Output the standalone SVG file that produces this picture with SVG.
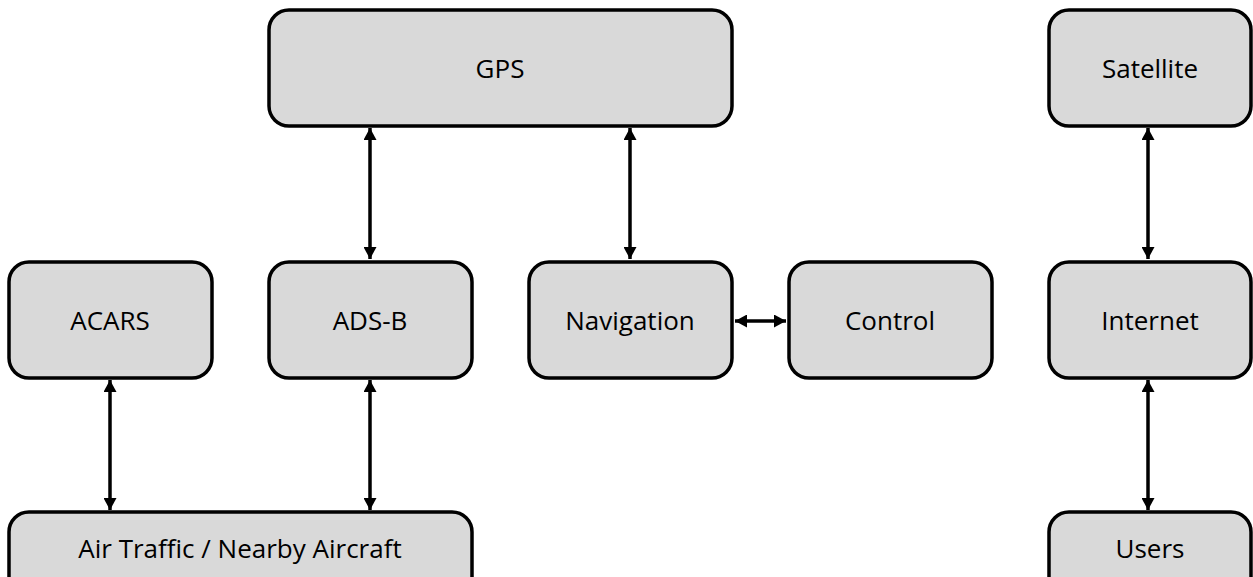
<svg xmlns="http://www.w3.org/2000/svg" width="1253" height="577" viewBox="0 0 1253 577">
  <style>
    .box { fill: #d9d9d9; stroke: #000; stroke-width: 3.5; }
    .lbl { font-family: "Open Sans", Lato, "Liberation Sans", sans-serif; font-size: 26px; fill: #000; text-anchor: middle; dominant-baseline: central; }
    .link { stroke: #000; stroke-width: 3.5; fill: none; marker-start: url(#head); marker-end: url(#head); }
  </style>
  <defs>
    <marker id="head" viewBox="0 0 12 13" refX="12" refY="6.5" markerWidth="12" markerHeight="13" markerUnits="userSpaceOnUse" orient="auto-start-reverse">
      <path d="M0,0 L12,6.5 L0,13 z" fill="#000"/>
    </marker>
  </defs>

  <g id="connectors">
    <line class="link" x1="370" y1="128" x2="370" y2="259"/>
    <line class="link" x1="630" y1="128" x2="630" y2="259"/>
    <line class="link" x1="110" y1="380" x2="110" y2="510"/>
    <line class="link" x1="370" y1="380" x2="370" y2="510"/>
    <line class="link" x1="735" y1="321" x2="786" y2="321"/>
    <line class="link" x1="1148" y1="128" x2="1148" y2="259"/>
    <line class="link" x1="1148" y1="380" x2="1148" y2="510"/>
  </g>

  <g id="gps">
    <rect class="box" x="269" y="10" width="463" height="116" rx="20"/>
    <text class="lbl" x="500" y="68">GPS</text>
  </g>
  <g id="satellite">
    <rect class="box" x="1049" y="10" width="202" height="116" rx="20"/>
    <text class="lbl" x="1150" y="68">Satellite</text>
  </g>
  <g id="acars">
    <rect class="box" x="9" y="262" width="203" height="116" rx="20"/>
    <text class="lbl" x="110" y="320">ACARS</text>
  </g>
  <g id="adsb">
    <rect class="box" x="269" y="262" width="203" height="116" rx="20"/>
    <text class="lbl" x="370" y="320">ADS-B</text>
  </g>
  <g id="navigation">
    <rect class="box" x="529" y="262" width="203" height="116" rx="20"/>
    <text class="lbl" x="630" y="320">Navigation</text>
  </g>
  <g id="control">
    <rect class="box" x="789" y="262" width="203" height="116" rx="20"/>
    <text class="lbl" x="890" y="320">Control</text>
  </g>
  <g id="internet">
    <rect class="box" x="1049" y="262" width="202" height="116" rx="20"/>
    <text class="lbl" x="1150" y="320">Internet</text>
  </g>
  <g id="air-traffic">
    <rect class="box" x="9" y="512" width="463" height="100" rx="20"/>
    <text class="lbl" x="240" y="548">Air Traffic / Nearby Aircraft</text>
  </g>
  <g id="users">
    <rect class="box" x="1049" y="512" width="202" height="100" rx="20"/>
    <text class="lbl" x="1150" y="548">Users</text>
  </g>
</svg>
